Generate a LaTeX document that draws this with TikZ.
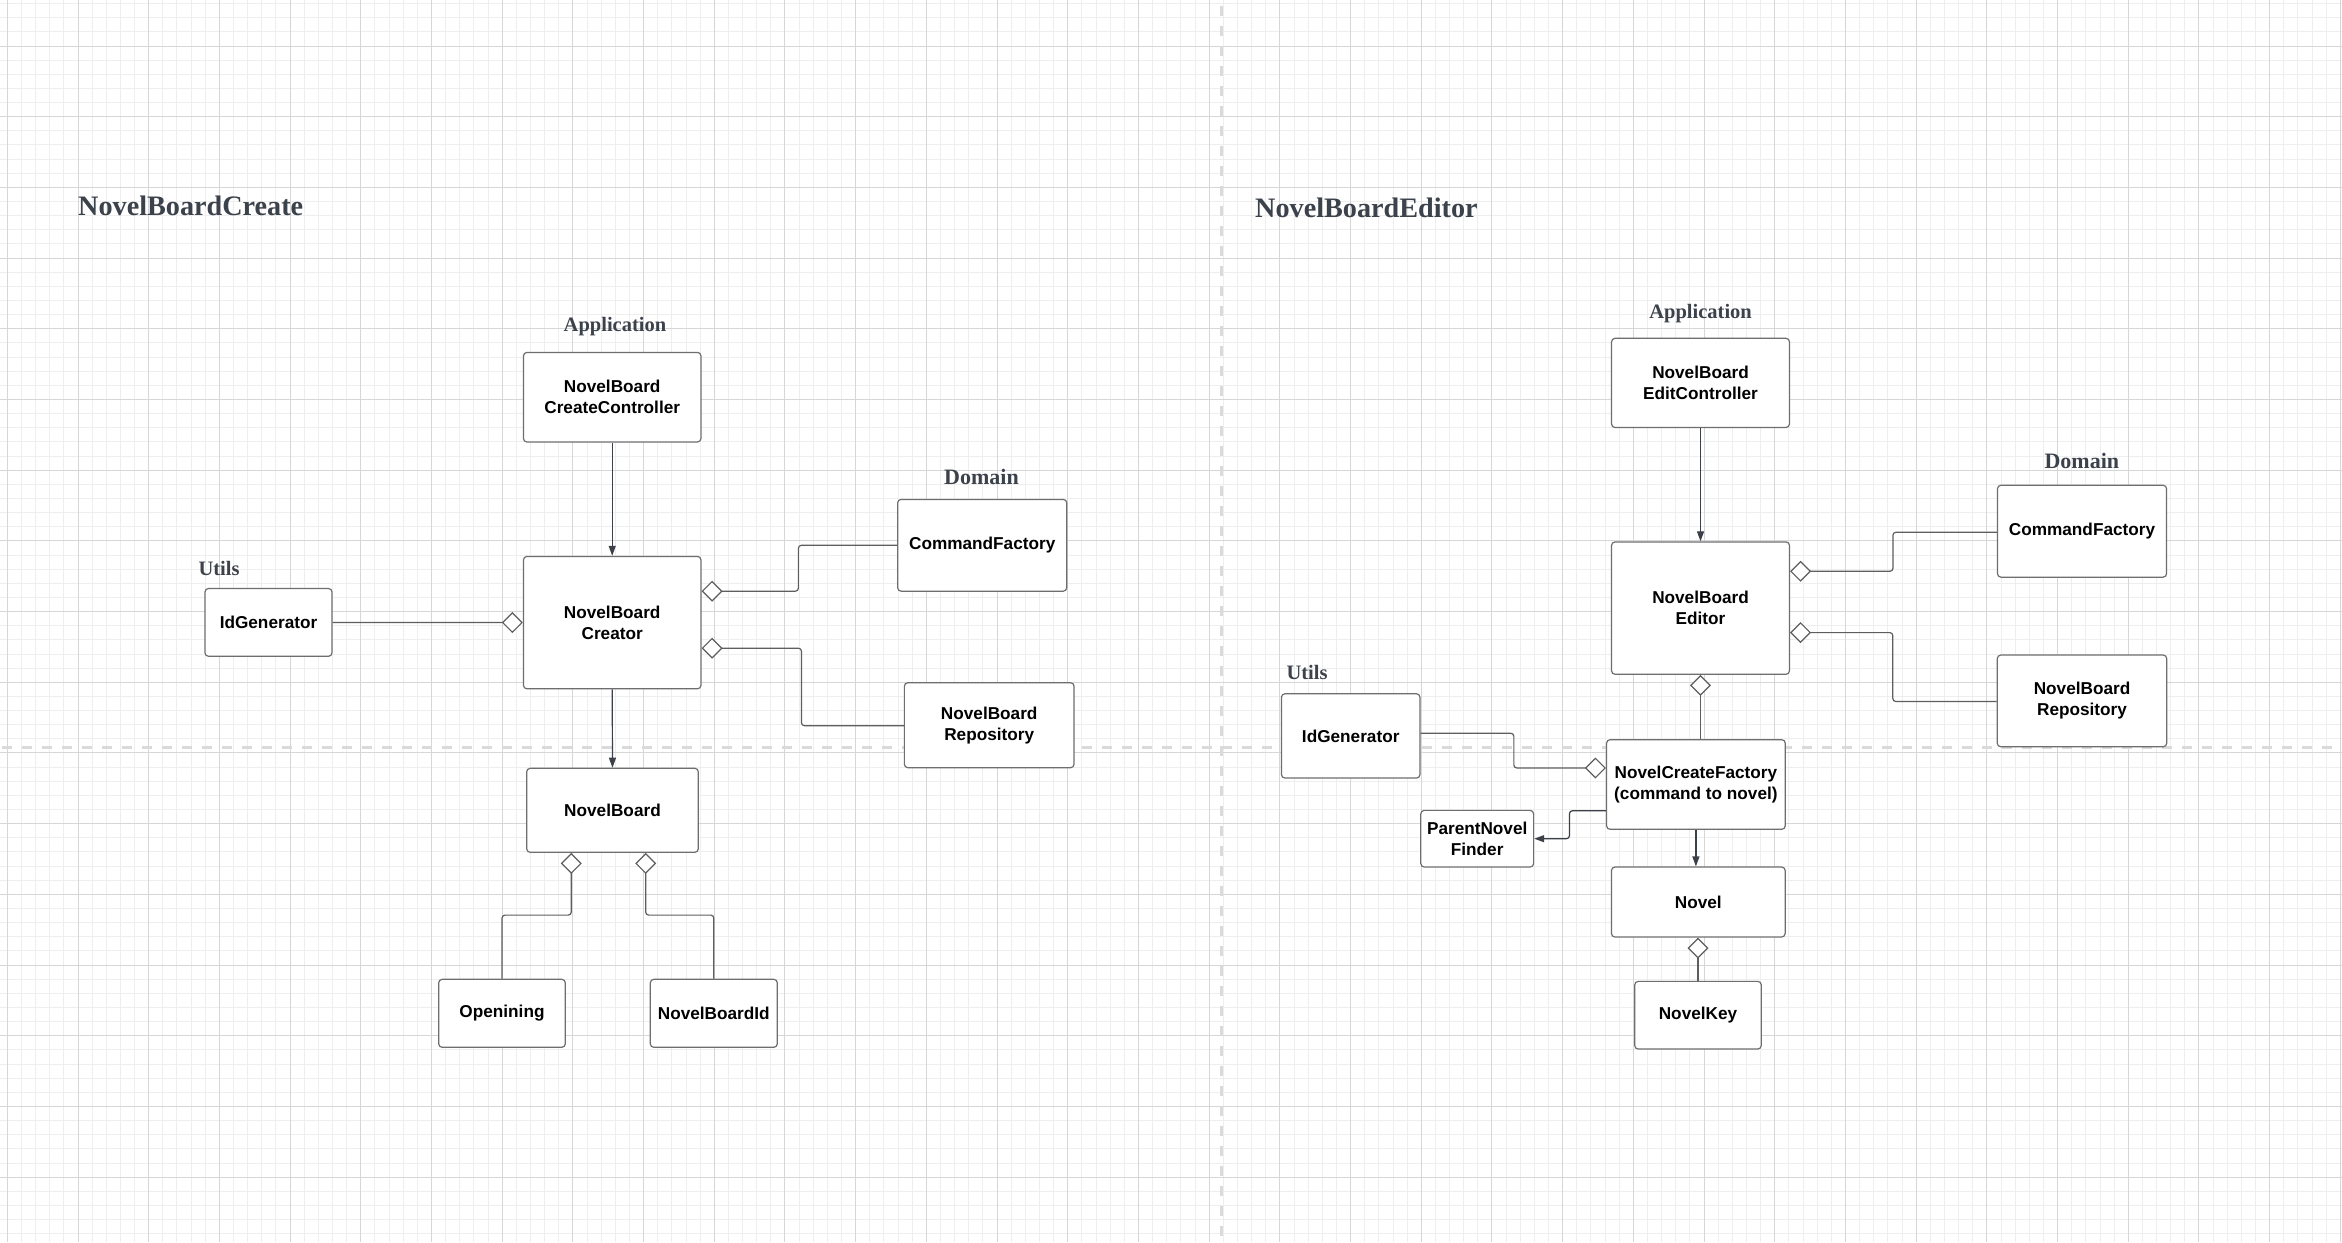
\documentclass[tikz,border=0pt]{standalone}
\usepackage{fontspec}
\setmainfont{Liberation Serif}
\newfontfamily\sansb{Liberation Sans}
\usetikzlibrary{arrows.meta}
\definecolor{minorgrid}{HTML}{EEEEEE}
\definecolor{majorgrid}{HTML}{D6D6D6}
\definecolor{dashgray}{HTML}{DADADA}
\definecolor{boxline}{HTML}{6E6E6E}
\definecolor{conn}{HTML}{5E5E5E}
\definecolor{arrowc}{HTML}{3C4049}
\definecolor{titlegray}{HTML}{3C424B}
\tikzset{
  minorline/.style={draw=minorgrid, line width=1pt},
  majorline/.style={draw=majorgrid, line width=1.2pt},
  dashline/.style={draw=dashgray, line width=2.7pt, dash pattern=on 10pt off 10pt},
  umlbox/.style={draw=boxline, line width=1.2pt, fill=white, rounded corners=3.5pt,
    inner sep=0pt, align=center, text=black,
    font=\sansb\bfseries\fontsize{17.2}{21}\selectfont},
  titletext/.style={text=titlegray, inner sep=0pt, font=\bfseries\fontsize{28.2}{30}\selectfont},
  layertext/.style={text=titlegray, inner sep=0pt, font=\bfseries\fontsize{20.5}{24}\selectfont},
  domaintext/.style={text=titlegray, inner sep=0pt, font=\bfseries\fontsize{22}{26}\selectfont},
  dep/.style={draw=arrowc, line width=1.2pt, -{Triangle[length=10pt,width=7pt]}},
  agg/.style={draw=conn, line width=1.2pt, rounded corners=3pt,
    -{Diamond[fill=white,length=21pt,width=21pt]}},
}
\begin{document}
\begin{tikzpicture}[x=1pt,y=-1pt]
\useasboundingbox (0,0) rectangle (2342,1242);
\fill[white] (0,0) rectangle (2342,1242);
% grid (snapped to pixel centres)
\foreach \i in {-1,...,166} {\draw[minorline] ({floor(7.3+\i*14.14)+0.5},0) -- ({floor(7.3+\i*14.14)+0.5},1242);}
\foreach \i in {-3,...,85} {\draw[minorline] (0,{floor(46+\i*14.14)+0.5}) -- (2342,{floor(46+\i*14.14)+0.5});}
\foreach \i in {0,...,33} {\draw[majorline] ({floor(7.3+\i*70.7)+0.5},0) -- ({floor(7.3+\i*70.7)+0.5},1242);}
\foreach \i in {0,...,16} {\draw[majorline] (0,{floor(46+\i*70.7)+0.5}) -- (2342,{floor(46+\i*70.7)+0.5});}
% dashed separators
\draw[dashline, dash phase=14pt] (1221.5,0) -- (1221.5,1242);
\draw[dashline, dash phase=18pt] (0,747.3) -- (2342,747.3);

% ---------- left: NovelBoardCreate ----------
\node[titletext, anchor=base west] (titleL) at (78,215.5) {NovelBoardCreate};
\node[layertext] (appL) at (615,327) {Application};
\node[domaintext] (domL) at (981.5,476.5) {Domain};
\node[layertext] (utilL) at (219,568) {Utils};

\node[umlbox, minimum width=177.5pt, minimum height=89.6pt] (ctrlL) at (612.2,397.2) {NovelBoard\\CreateController};
\node[umlbox, minimum width=177.5pt, minimum height=132.4pt] (creator) at (612.2,622.6) {NovelBoard\\Creator};
\node[umlbox, minimum width=169.1pt, minimum height=91.8pt] (cmdL) at (982.2,545.3) {CommandFactory};
\node[umlbox, minimum width=169.7pt, minimum height=85pt] (repoL) at (989.2,725.2) {NovelBoard\\Repository};
\node[umlbox, minimum width=127pt, minimum height=67.8pt] (idL) at (268.5,622.4) {IdGenerator};
\node[umlbox, minimum width=171.6pt, minimum height=84pt] (boardL) at (612.5,810.3) {NovelBoard};
\node[umlbox, minimum width=126.6pt, minimum height=68pt] (opening) at (502,1013.3) {Openining};
\node[umlbox, minimum width=127pt, minimum height=68pt] (boardId) at (713.8,1013.3) {NovelBoardId};

\draw[dep] (ctrlL.south) -- (creator.north);
\draw[dep] (creator.south) -- (boardL.north);
\draw[agg] (idL.east) -- (creator.west);
\draw[agg] (cmdL.west) -- ++(-98.7,0) |- ([yshift=31.4pt]creator.east);
\draw[agg] ([yshift=-0.5pt]repoL.west) -- ++(-102.3,0) |- ([yshift=-25.6pt]creator.east);
\draw[agg] (opening.north) -- ++(0,-63.6) -| ([xshift=-41.2pt]boardL.south);
\draw[agg] (boardId.north) -- ++(0,-63.6) -| ([xshift=33.2pt]boardL.south);

% ---------- right: NovelBoardEditor ----------
\node[titletext, anchor=base west] (titleR) at (1255,217) {NovelBoardEditor};
\node[layertext] (appR) at (1700.6,314) {Application};
\node[domaintext] (domR) at (2081.8,461) {Domain};
\node[layertext] (utilR) at (1307,672.4) {Utils};

\node[umlbox, minimum width=177.9pt, minimum height=89.2pt] (ctrlR) at (1700.5,382.9) {NovelBoard\\EditController};
\node[umlbox, minimum width=177.9pt, minimum height=132.4pt] (editor) at (1700.5,608.1) {NovelBoard\\Editor};
\node[umlbox, minimum width=169.1pt, minimum height=91.9pt] (cmdR) at (2082,531.2) {CommandFactory};
\node[umlbox, minimum width=169.4pt, minimum height=91.7pt] (repoR) at (2082,700.9) {NovelBoard\\Repository};
\node[umlbox, minimum width=138.5pt, minimum height=84.3pt] (idR) at (1350.7,735.9) {IdGenerator};
\node[umlbox, minimum width=178.7pt, minimum height=89.6pt] (factory) at (1695.9,784.5) {NovelCreateFactory\\(command to novel)};
\node[umlbox, minimum width=112.8pt, minimum height=56.7pt] (finder) at (1477.2,838.7) {ParentNovel\\Finder};
\node[umlbox, minimum width=173.7pt, minimum height=70pt] (novel) at (1698.3,902) {Novel};
\node[umlbox, minimum width=126.5pt, minimum height=67.7pt] (novelKey) at (1698,1015.2) {NovelKey};

\draw[dep] (ctrlR.south) -- (editor.north);
\draw[agg] ([yshift=-1pt]cmdR.west) -- ++(-103.9,0) |- ([yshift=36.8pt]editor.east);
\draw[agg] ([yshift=-0.6pt]repoR.west) -- ++(-103.9,0) |- ([yshift=-24.5pt]editor.east);
\draw[agg] (editor.south |- factory.north) -- (editor.south);
\draw[agg] ([yshift=2.6pt]idR.east) -- ++(93.3,0) |- ([yshift=16.5pt]factory.west);
\draw[dep, rounded corners=3pt] ([yshift=-26.2pt]factory.west) -- ++(-36.5,0) |- (finder.east);
\draw[dep] (factory.south) -- (factory.south |- novel.north);
\draw[agg] (novelKey.north) -- (novelKey.north |- novel.south);
\end{tikzpicture}
\end{document}
